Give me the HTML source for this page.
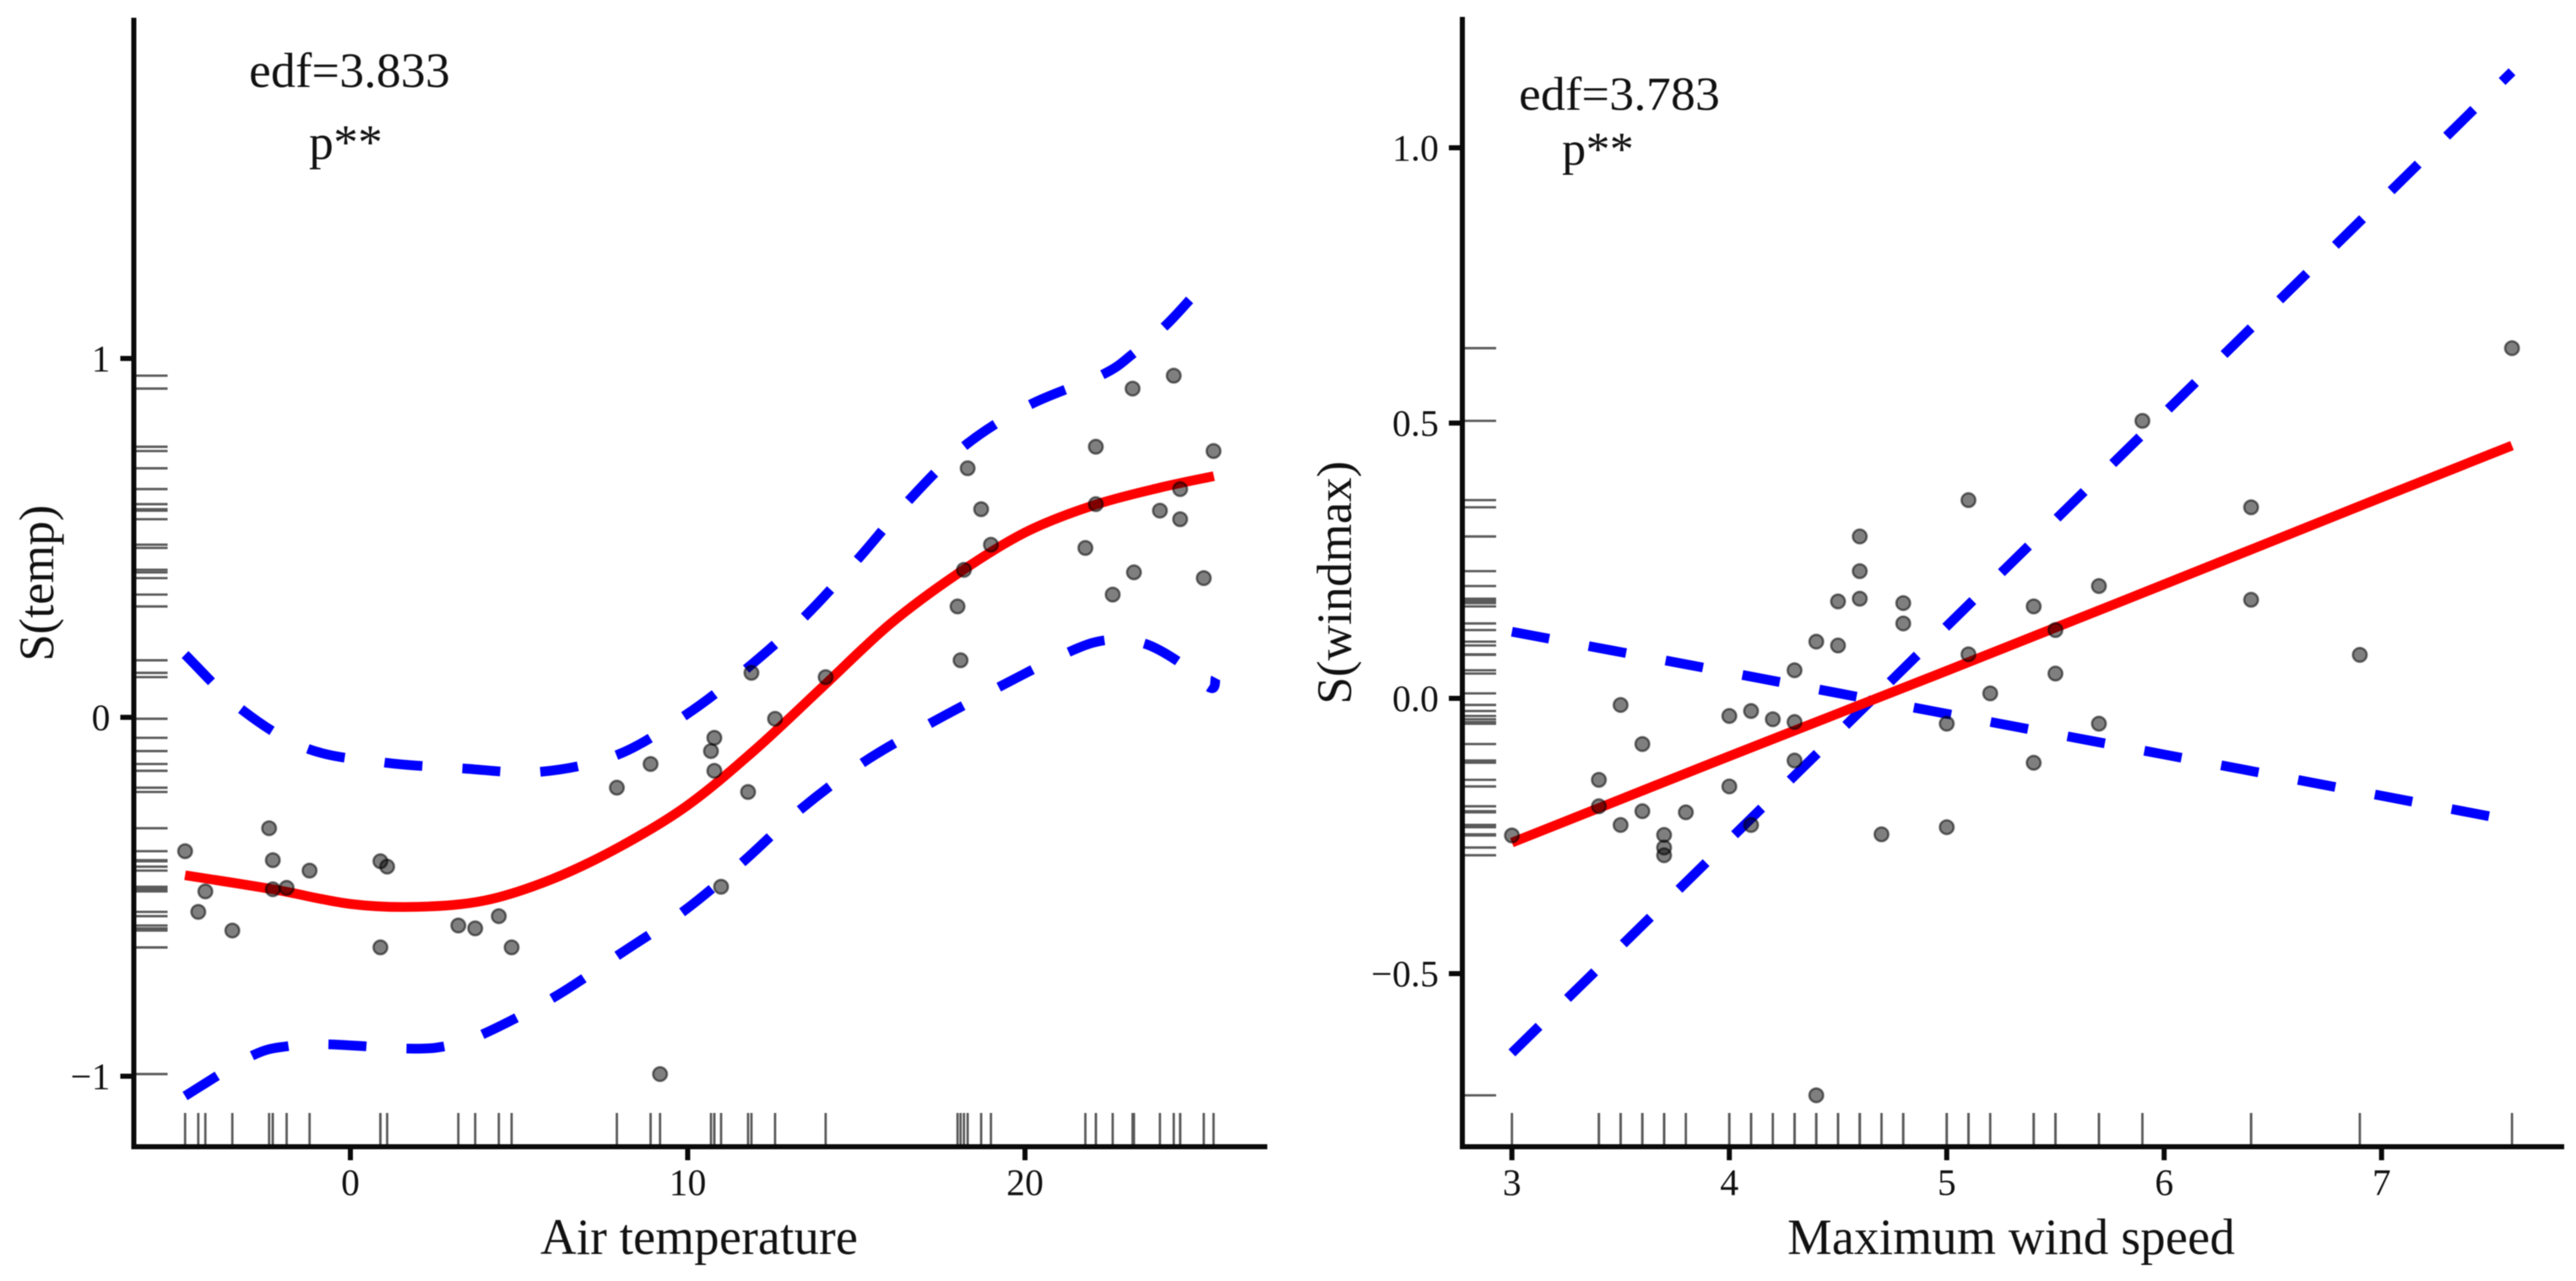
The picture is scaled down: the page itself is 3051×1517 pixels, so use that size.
<!DOCTYPE html>
<html lang="en">
<head>
<meta charset="utf-8">
<title>GAM smooth effects</title>
<style>
  html, body { margin: 0; padding: 0; background: #fff; }
  svg { display: block; filter: blur(0.6px); }
  text { font-family: "Liberation Serif", "Times New Roman", serif; fill: #111; }
</style>
</head>
<body>
<svg id="figure" xmlns="http://www.w3.org/2000/svg" width="3051" height="1517" viewBox="0 0 3051 1517">
  <rect width="3051" height="1517" fill="#fff"></rect>
  <g id="panel-temp"></g>
  <g id="panel-wind"></g>
  <text x="295" y="103" font-size="58" textLength="238" lengthAdjust="spacingAndGlyphs">edf=3.833</text>
  <text x="366" y="188" font-size="58" textLength="87" lengthAdjust="spacingAndGlyphs">p**</text>
  <text x="1799" y="130" font-size="56" textLength="238" lengthAdjust="spacingAndGlyphs">edf=3.783</text>
  <text x="1850" y="195" font-size="56" textLength="85" lengthAdjust="spacingAndGlyphs">p**</text>
  <text x="640" y="1485" font-size="60" textLength="376" lengthAdjust="spacingAndGlyphs">Air temperature</text>
  <text x="2117" y="1485" font-size="60" textLength="530" lengthAdjust="spacingAndGlyphs">Maximum wind speed</text>
  <text transform="translate(63 783) rotate(-90)" font-size="58" textLength="185" lengthAdjust="spacingAndGlyphs">S(temp)</text>
  <text transform="translate(1600 834) rotate(-90)" font-size="58" textLength="288" lengthAdjust="spacingAndGlyphs">S(windmax)</text>
</svg>
<script>
// ---- Air temperature panel data ----
const tempX = [-4.90,-4.30,-4.51,-3.50,-2.41,-2.30,-2.30,-1.89,-1.21,0.89,1.09,0.89,3.20,3.70,4.40,4.78,7.90,8.90,9.18,
  10.79,10.69,10.79,12.59,11.79,10.99,14.09,11.89,
  18.30,18.70,18.99,18.19,18.00,18.09,22.10,22.10,21.79,23.23,22.60,23.19,24.41,25.59,24.60,24.00,24.60,25.30];
const tempResidual = [-0.373,-0.485,-0.542,-0.594,-0.309,-0.398,-0.479,-0.475,-0.427,-0.401,-0.416,-0.641,-0.580,-0.588,-0.554,-0.641,-0.196,-0.130,-0.994,
  -0.057,-0.094,-0.149,-0.004,-0.208,-0.472,0.112,0.124,
  0.694,0.580,0.481,0.411,0.309,0.159,0.754,0.594,0.472,0.404,0.342,0.916,0.952,0.742,0.636,0.576,0.552,0.388];
const tempFitX = [-4.9,-2.3,0,2,4,6,8,10,12,14,16,18,20,22,24,25.6];
const tempFit = [-0.44,-0.479,-0.52,-0.528,-0.51,-0.45,-0.36,-0.245,-0.09,0.085,0.26,0.40,0.515,0.59,0.64,0.672];
const tempUpperX = [-4.9,-3.2,-1.25,1,3.3,5.6,7.9,9.9,11.67,13.4,15,16.5,18.2,20.1,22.3,23.2,24.15,24.88];
const tempUpper = [0.175,0.02,-0.088,-0.126,-0.142,-0.152,-0.105,0.004,0.13,0.274,0.436,0.599,0.756,0.869,0.955,1.013,1.09,1.163];
const tempLowerX = [-4.9,-2.92,-1.83,-0.63,1.68,2.83,3.9,6,7.93,9.88,11.6,13.3,15.2,17.17,19.2,21.25,22.4,23.53,24.6,25.5,25.65];
const tempLower = [-1.055,-0.943,-0.916,-0.911,-0.923,-0.916,-0.884,-0.782,-0.663,-0.54,-0.406,-0.26,-0.126,-0.018,0.083,0.18,0.215,0.206,0.152,0.082,0.11];
const tempXTicks = [0,10,20];
const tempXTickLabels = ["0","10","20"];
const tempYTicks = [1,0,-1];
const tempYTickLabels = ["1","0","\u22121"];

// ---- Maximum wind speed panel data ----
const windX = [3,3.4,3.4,3.5,3.5,3.6,3.6,3.7,3.7,3.7,3.8,4.0,4.0,4.1,4.1,4.2,4.3,4.3,4.3,4.4,4.4,4.5,4.5,4.6,4.6,4.6,4.7,4.8,4.8,5.0,5.0,5.1,5.1,5.2,5.4,5.4,5.5,5.5,5.7,5.7,5.9,6.4,6.4,6.9,7.6];
const windResidual = [-0.249,-0.148,-0.196,-0.012,-0.23,-0.083,-0.205,-0.248,-0.271,-0.285,-0.207,-0.032,-0.16,-0.023,-0.23,-0.038,0.051,-0.043,-0.113,0.103,-0.721,0.176,0.096,0.294,0.231,0.181,-0.247,0.173,0.136,-0.046,-0.234,0.36,0.08,0.009,0.167,-0.117,0.124,0.045,0.204,-0.046,0.504,0.347,0.179,0.079,0.636];
const windFitX = [3,4,5,6,7,7.6];
const windFit = [-0.262,-0.105,0.05,0.207,0.365,0.459];
const windUpper = [-0.644,-0.257,0.131,0.518,0.905,1.138];
const windLower = [0.121,0.047,-0.028,-0.102,-0.177,-0.222];
const windXTicks = [3,4,5,6,7];
const windXTickLabels = ["3","4","5","6","7"];
const windYTicks = [1,0.5,0,-0.5];
const windYTickLabels = ["1.0","0.5","0.0","\u22120.5"];

const NS = "http://www.w3.org/2000/svg";

function make(parent, tag, attrs) {
  const el = document.createElementNS(NS, tag);
  for (const k in attrs) el.setAttribute(k, attrs[k]);
  parent.appendChild(el);
  return el;
}

function curvePath(xs, ys, sx, sy) {
  const p = xs.map((v, i) => [sx(v), sy(ys[i])]);
  let d = "M" + p[0][0].toFixed(1) + " " + p[0][1].toFixed(1);
  for (let i = 0; i < p.length - 1; i++) {
    const a = p[Math.max(i - 1, 0)], b = p[i], c = p[i + 1], e = p[Math.min(i + 2, p.length - 1)];
    const c1x = b[0] + (c[0] - a[0]) / 6, c1y = b[1] + (c[1] - a[1]) / 6;
    const c2x = c[0] - (e[0] - b[0]) / 6, c2y = c[1] - (e[1] - b[1]) / 6;
    d += "C" + c1x.toFixed(1) + " " + c1y.toFixed(1) + " " + c2x.toFixed(1) + " " + c2y.toFixed(1) + " " + c[0].toFixed(1) + " " + c[1].toFixed(1);
  }
  return d;
}

function drawPanel(g, o) {
  const sx = o.sx, sy = o.sy;

  // rugs
  o.pointsX.forEach(function (v) {
    const r = make(g, "line", { x1: sx(v), x2: sx(v), y1: o.axisY - 40, y2: o.axisY, stroke: "#5a5a5a", "stroke-width": 2.8 });
    
    
  });
  o.pointsY.forEach(function (v) {
    const r = make(g, "line", { x1: o.axisX, x2: o.axisX + 40, y1: sy(v), y2: sy(v), stroke: "#5a5a5a", "stroke-width": 2.8 });
    
    
  });

  // confidence bands and fit
  const up = make(g, "path", { d: curvePath(o.upperX, o.upper, sx, sy), fill: "none", stroke: "#0000ff", "stroke-width": 11.5, "stroke-dasharray": o.upperDash });
  
  
  const low = make(g, "path", { d: curvePath(o.lowerX, o.lower, sx, sy), fill: "none", stroke: "#0000ff", "stroke-width": 11.5, "stroke-dasharray": o.lowerDash });
  
  
  const fit = make(g, "path", { d: curvePath(o.fitX, o.fit, sx, sy), fill: "none", stroke: "#ff0000", "stroke-width": 11.5 });
  
  

  // residual points
  o.pointsX.forEach(function (v, i) {
    const c = make(g, "circle", { cx: sx(v), cy: sy(o.pointsY[i]), r: 8.2, fill: "#000", "fill-opacity": 0.5, stroke: "#000", "stroke-opacity": 0.55, "stroke-width": 2.6 });
    
    
  });

  // axis lines
  const ya = make(g, "line", { x1: o.axisX, x2: o.axisX, y1: o.top, y2: o.axisY + 3, stroke: "#0a0a0a", "stroke-width": 6 });
  
  
  const xa = make(g, "line", { x1: o.axisX - 3, x2: o.right, y1: o.axisY, y2: o.axisY, stroke: "#0a0a0a", "stroke-width": 6 });
  
  

  // ticks
  o.xTicks.forEach(function (v, i) {
    const t = make(g, "line", { x1: sx(v), x2: sx(v), y1: o.axisY, y2: o.axisY + 16, stroke: "#0a0a0a", "stroke-width": 6 });
    
    
    const l = make(g, "text", { x: sx(v), y: 1415, "text-anchor": "middle", "font-size": 44 });
    
    
    l.textContent = o.xTickLabels[i];
  });
  o.yTicks.forEach(function (v, i) {
    const t = make(g, "line", { x1: o.axisX - 16, x2: o.axisX, y1: sy(v), y2: sy(v), stroke: "#0a0a0a", "stroke-width": 6 });
    
    
    const l = make(g, "text", { x: o.axisX - 28, y: sy(v) + 15, "text-anchor": "end", "font-size": 44 });
    
    
    l.textContent = o.yTickLabels[i];
  });
}

drawPanel(document.getElementById("panel-temp"), {
  sx: function (v) { return 415 + 39.95 * v; },
  sy: function (v) { return 849.5 - 425 * v; },
  axisX: 158.5, axisY: 1358, top: 21, right: 1501,
  pointsX: tempX, pointsY: tempResidual,
  fitX: tempFitX, fit: tempFit,
  upperX: tempUpperX, upper: tempUpper,
  lowerX: tempLowerX, lower: tempLower,
  upperDash: "45 47.5",
  lowerDash: "45 47.5",
  xTicks: tempXTicks, xTickLabels: tempXTickLabels,
  yTicks: tempYTicks, yTickLabels: tempYTickLabels
});

drawPanel(document.getElementById("panel-wind"), {
  sx: function (v) { return 1790.7 + 257.5 * (v - 3); },
  sy: function (v) { return 827 - 652 * v; },
  axisX: 1732, axisY: 1358, top: 20, right: 3037,
  pointsX: windX, pointsY: windResidual,
  fitX: windFitX, fit: windFit,
  upperX: windFitX, upper: windUpper,
  lowerX: windFitX, lower: windLower,
  upperDash: "45 47.3 ".repeat(6) + "45 28.7 " + "45 47.3 ".repeat(14),
  lowerDash: "45 47.6 ".repeat(4) + "45 69 " + "45 47.6 ".repeat(12),
  xTicks: windXTicks, xTickLabels: windXTickLabels,
  yTicks: windYTicks, yTickLabels: windYTickLabels
});
</script>
</body>
</html>
